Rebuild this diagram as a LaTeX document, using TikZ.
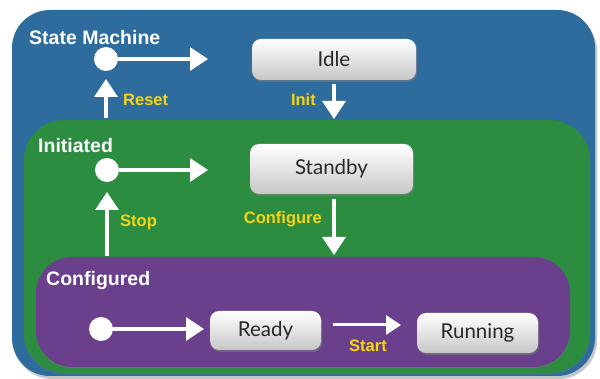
\documentclass[tikz,border=0pt]{standalone}
\usepackage{fontspec}
\setmainfont{Liberation Sans}
\newfontfamily\boxfont{Lato}
\usetikzlibrary{arrows.meta,shadows}
\definecolor{smblue}{RGB}{46,108,158}
\definecolor{smgreen}{RGB}{44,140,64}
\definecolor{smpurple}{RGB}{106,64,140}
\definecolor{smyellow}{RGB}{246,212,20}
\definecolor{boxtext}{RGB}{40,40,40}
\begin{document}
\begin{tikzpicture}[x=1pt,y=-1pt,
 title/.style={font=\bfseries\fontsize{19.5}{19.5}\selectfont, text=white, anchor=base west, inner sep=0pt},
 trans/.style={font=\bfseries\fontsize{16.5}{16.5}\selectfont, text=smyellow, inner sep=0pt},
 statebox/.style={rounded corners=9pt, top color=white, bottom color=black!22,
   drop shadow={shadow xshift=1.2pt, shadow yshift=-1.8pt, opacity=0.55},
   font=\boxfont\fontsize{20.5}{20.5}\selectfont, text=boxtext, inner sep=0pt},
 chalk/.style={draw=white, line width=3.4pt, -{Triangle[length=18pt,width=23pt]}},
 chalksmall/.style={draw=white, line width=3pt, -{Triangle[length=15pt,width=19pt]}},
 initdot/.style={circle, fill=white, minimum size=24pt, inner sep=0pt},
]
\useasboundingbox (0,0) rectangle (600,379);
% regions
\path[fill=smblue, rounded corners=38pt, drop shadow={shadow xshift=2pt, shadow yshift=-3pt, opacity=0.45}] (12,10) rectangle (595,376);
\path[fill=smgreen, rounded corners=40pt, drop shadow={shadow xshift=0pt, shadow yshift=-1.5pt, opacity=0.3}] (24,120) rectangle (590,373);
\path[fill=smpurple, rounded corners=36pt, drop shadow={shadow xshift=0pt, shadow yshift=-1.5pt, opacity=0.3}] (36,257) rectangle (570,367);
% titles
\node[title] (tsm) at (29,45) {State Machine};
\node[title] (tin) at (38,153) {Initiated};
\node[title] (tco) at (46,286) {Configured};
% states
\node[statebox, minimum width=164pt, minimum height=41pt] (idle) at (334,59.5) {Idle};
\node[statebox, minimum width=163pt, minimum height=50pt] (standby) at (331.5,169) {Standby};
\node[statebox, minimum width=111pt, minimum height=39pt] (ready) at (265.5,330.5) {Ready};
\node[statebox, minimum width=121pt, minimum height=40pt] (running) at (477.5,333) {Running};
% initial pseudo states
\node[initdot] (i1) at (106,59) {};
\node[initdot] (i2) at (107,170) {};
\node[initdot] (i3) at (101,329) {};
\coordinate (i1e) at (208,59);
\coordinate (i2e) at (208,170);
\coordinate (i3e) at (204,329);
\draw[chalk] (i1) -- (i1e);
\draw[chalk] (i2) -- (i2e);
\draw[chalk] (i3) -- (i3e);
% transitions
\coordinate (rs) at (106,118);
\coordinate (re) at (106,79);
\draw[chalk] (rs) -- (re);
\coordinate (is) at (334,84);
\coordinate (ie) at (334,119);
\draw[chalk] (is) -- (ie);
\coordinate (ss) at (107,256);
\coordinate (se) at (107,192);
\draw[chalk] (ss) -- (se);
\coordinate (cs) at (334,199);
\coordinate (ce) at (334,255);
\draw[chalk] (cs) -- (ce);
\coordinate (sts) at (333,325);
\coordinate (ste) at (401,325);
\draw[chalksmall] (sts) -- (ste);
% labels
\node[trans, anchor=base west] (lreset) at (123,106) {Reset};
\node[trans, anchor=base east] (linit) at (316,106) {Init};
\node[trans, anchor=base west] (lstop) at (120,227) {Stop};
\node[trans, anchor=base east] (lconf) at (322,224) {Configure};
\node[trans, anchor=base] (lstart) at (368,352) {Start};
\end{tikzpicture}
\end{document}
